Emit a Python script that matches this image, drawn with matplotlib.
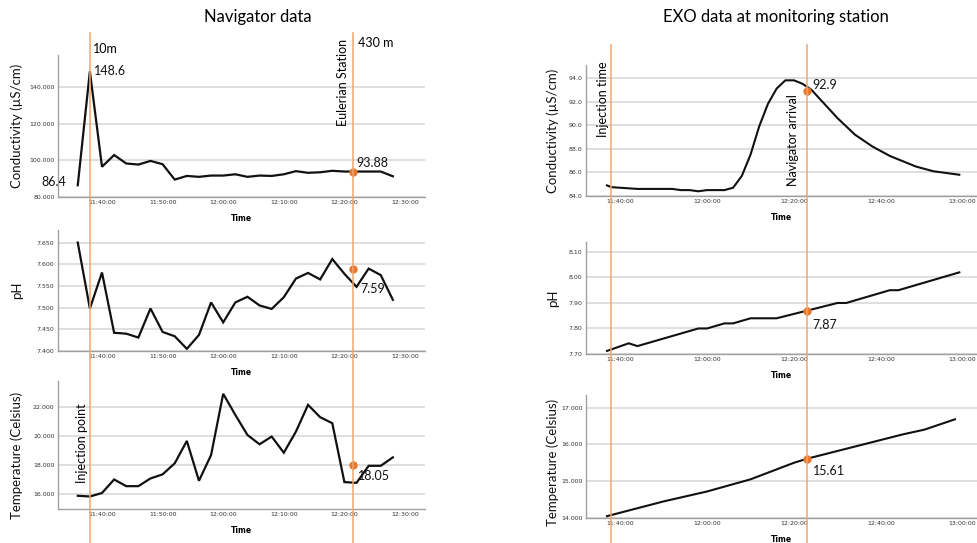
import matplotlib
matplotlib.use('agg')
import matplotlib.pyplot as plt
from matplotlib.lines import Line2D
from matplotlib.transforms import blended_transform_factory, ScaledTranslation

plt.rcParams['font.family'] = ['Lato', 'DejaVu Sans']

# Navigator (moving probe) readings, every two minutes
nav_time = ["11:36", "11:38", "11:40", "11:42", "11:44", "11:46", "11:48", "11:50", "11:52",
            "11:54", "11:56", "11:58", "12:00", "12:02", "12:04", "12:06", "12:08", "12:10",
            "12:12", "12:14", "12:16", "12:18", "12:20", "12:22", "12:24", "12:26", "12:28"]
nav_cond = [86.4, 148.6, 96.5, 102.9, 98.3, 97.7, 99.7, 97.9, 89.5,
            91.5, 91.0, 91.7, 91.7, 92.4, 91.0, 91.7, 91.5, 92.4,
            94.1, 93.2, 93.5, 94.3, 93.9, 93.9, 93.9, 93.9, 91.3]
nav_ph = [7.650, 7.498, 7.581, 7.442, 7.440, 7.431, 7.498, 7.444, 7.434,
          7.405, 7.437, 7.512, 7.466, 7.512, 7.525, 7.505, 7.497, 7.524,
          7.567, 7.580, 7.565, 7.612, 7.578, 7.548, 7.590, 7.575, 7.518]
nav_temp = [15.91, 15.86, 16.10, 17.03, 16.57, 16.57, 17.10, 17.38, 18.14,
            19.68, 16.94, 18.71, 22.92, 21.47, 20.09, 19.45, 19.98, 18.87,
            20.32, 22.16, 21.31, 20.90, 16.85, 16.80, 17.97, 17.97, 18.55]

# EXO sonde at the monitoring station
exo_cond_time = ["11:37", "11:38", "11:40", "11:42", "11:44", "11:46", "11:48", "11:50",
                 "11:52", "11:54", "11:56", "11:58", "12:00", "12:02", "12:04", "12:06",
                 "12:08", "12:10", "12:12", "12:14", "12:16", "12:18", "12:20", "12:22",
                 "12:24", "12:26", "12:28", "12:30", "12:32", "12:34", "12:36", "12:38",
                 "12:40", "12:42", "12:44", "12:46", "12:48", "12:50", "12:52", "12:54",
                 "12:56", "12:58"]
exo_cond = [84.9, 84.75, 84.7, 84.65, 84.6, 84.6, 84.6, 84.6,
            84.6, 84.5, 84.5, 84.4, 84.5, 84.5, 84.5, 84.7,
            85.7, 87.5, 89.9, 91.8, 93.1, 93.8, 93.8, 93.5,
            93.0, 92.2, 91.4, 90.6, 89.9, 89.2, 88.7, 88.2,
            87.8, 87.4, 87.1, 86.8, 86.5, 86.3, 86.1, 86.0,
            85.9, 85.8]
exo_ph_time = ["11:37", "11:42", "11:44", "11:58", "12:00", "12:04", "12:06",
               "12:10", "12:16", "12:30", "12:32", "12:42", "12:44", "12:58"]
exo_ph = [7.712, 7.742, 7.731, 7.80, 7.80, 7.82, 7.82,
          7.84, 7.84, 7.90, 7.90, 7.95, 7.95, 8.02]
exo_temp_time = ["11:37", "11:50", "12:00", "12:10", "12:20", "12:23",
                 "12:30", "12:40", "12:45", "12:50", "12:57"]
exo_temp = [14.05, 14.45, 14.72, 15.05, 15.50, 15.61,
            15.82, 16.12, 16.27, 16.40, 16.68]

# event times and the values read at the station
injection_time = "11:38"
nav_station_time = "12:21:30"
exo_arrival_time = "12:23"
nav_station_vals = [93.88, 7.59, 18.05]
exo_arrival_vals = [92.9, 7.87, 15.61]

nav_ticks = ["11:40:00", "11:50:00", "12:00:00", "12:10:00", "12:20:00", "12:30:00"]
exo_ticks = ["11:40:00", "12:00:00", "12:20:00", "12:40:00", "13:00:00"]


def minutes(s):
    parts = [int(p) for p in s.split(':')]
    sec = parts[2] if len(parts) > 2 else 0
    return (parts[0] - 11) * 60 + parts[1] + sec / 60.0


W, H = 977, 543
fig = plt.figure(figsize=(W / 100, H / 100), dpi=100)
ORANGE = '#f0a56c'
DOT = '#e8772e'


def panel(left, top, right, bottom, xlim, ylim, yticks, yfmt, ticks, ylabel, ylab_x, ylab_y):
    ax = fig.add_axes([left / W, 1 - bottom / H, (right - left) / W, (bottom - top) / H])
    ax.set_xlim(*xlim)
    ax.set_ylim(*ylim)
    ax.set_yticks(yticks)
    ax.set_yticklabels([yfmt % v for v in yticks])
    ax.set_xticks([minutes(t) for t in ticks])
    ax.set_xticklabels(ticks)
    ax.tick_params(length=0, labelsize=4.5, labelcolor='#333333')
    ax.tick_params(axis='x', pad=2.5)
    ax.tick_params(axis='y', pad=2.5)
    for lab in ax.get_xticklabels() + ax.get_yticklabels():
        lab.set_family('DejaVu Sans')
    ax.grid(axis='y', color='#d6d6d6', lw=1.1)
    ax.set_axisbelow(True)
    for s in ['top', 'right']:
        ax.spines[s].set_visible(False)
    for s in ['left', 'bottom']:
        ax.spines[s].set_color('#a0a0a0')
        ax.spines[s].set_linewidth(1.0)
    ax.set_xlabel('Time', fontsize=5.5, fontweight='bold', family='DejaVu Sans', labelpad=6)
    ax.set_ylabel(ylabel, fontsize=9.5, color='#111111')
    # label anchor is the right edge of the rotated text, given in pixels
    ax.yaxis.set_label_coords((ylab_x - left) / (right - left), ylab_y)
    return ax


nav_xlim = (32.74, 93.3)
exo_xlim = (32.18, 122.07)

ax1 = panel(58, 55, 425, 197, nav_xlim, (80, 157.5), [80, 100, 120, 140], '%.3f', nav_ticks,
            'Conductivity (µS/cm)', 23, 0.5)
ax2 = panel(58, 230, 425, 351, nav_xlim, (7.40, 7.679), [7.40, 7.45, 7.50, 7.55, 7.60, 7.65], '%.3f',
            nav_ticks, 'pH', 23, 0.5)
ax3 = panel(58, 381, 425, 509, nav_xlim, (15.0, 23.8), [16, 18, 20, 22], '%.3f', nav_ticks,
            'Temperature (Celsius)', 23, 0.42)
ax4 = panel(586, 65, 977, 196, exo_xlim, (84, 95.1), [84, 86, 88, 90, 92, 94], '%.1f', exo_ticks,
            'Conductivity (µS/cm)', 559, 0.5)
ax5 = panel(586, 242, 977, 354, exo_xlim, (7.70, 8.139), [7.70, 7.80, 7.90, 8.00, 8.10], '%.2f',
            exo_ticks, 'pH', 559, 0.5)
ax6 = panel(586, 395, 977, 518, exo_xlim, (14, 17.34), [14, 15, 16, 17], '%.3f', exo_ticks,
            'Temperature (Celsius)', 559, 0.45)

# keep the last time label of the right column inside the figure
for ax in [ax4, ax5, ax6]:
    last = ax.get_xticklabels()[-1]
    last.set_horizontalalignment('right')
    last.set_transform(last.get_transform() + ScaledTranslation(8 / 100, 0, fig.dpi_scale_trans))

nav_x = [minutes(t) for t in nav_time]
for ax, vals in [(ax1, nav_cond), (ax2, nav_ph), (ax3, nav_temp)]:
    ax.plot(nav_x, vals, color='#111111', lw=1.6, solid_joinstyle='miter', zorder=3)
ax4.plot([minutes(t) for t in exo_cond_time], exo_cond, color='#111111', lw=1.5, zorder=3)
ax5.plot([minutes(t) for t in exo_ph_time], exo_ph, color='#111111', lw=1.5, zorder=3)
ax6.plot([minutes(t) for t in exo_temp_time], exo_temp, color='#111111', lw=1.5, zorder=3)

# orange event lines running through each column of panels
for ax, t, ytop in [(ax1, injection_time, 33), (ax1, nav_station_time, 33),
                    (ax4, injection_time, 45), (ax4, exo_arrival_time, 45)]:
    tr = blended_transform_factory(ax.transData, fig.transFigure)
    fig.add_artist(Line2D([minutes(t), minutes(t)], [0.0, 1 - ytop / H], transform=tr,
                          color=ORANGE, lw=1.1, zorder=5))

# station markers and their values
label_offsets = [(2, 6), (5, -15), (3, -8)]
for ax, v, off in zip([ax1, ax2, ax3], nav_station_vals, label_offsets):
    x = minutes(nav_station_time)
    ax.plot([x], [v], 'o', color=DOT, ms=5, zorder=6, clip_on=False)
    ax.annotate('%g' % v, (x, v), xytext=off, textcoords='offset points', fontsize=9,
                ha='left', va='center', color='#111111')
exo_offsets = [(4, 4), (4, -10), (4, -9)]
for ax, v, off in zip([ax4, ax5, ax6], exo_arrival_vals, exo_offsets):
    x = minutes(exo_arrival_time)
    ax.plot([x], [v], 'o', color=DOT, ms=5, zorder=6, clip_on=False)
    ax.annotate('%g' % v, (x, v), xytext=off, textcoords='offset points', fontsize=9,
                ha='left', va='center', color='#111111')

# first reading and the peak of the navigator conductivity
ax1.annotate('%g' % nav_cond[0], (nav_x[0], nav_cond[0]), xytext=(-8, 2), textcoords='offset points',
             fontsize=9, ha='right', va='center', color='#111111')
ax1.annotate('%g' % nav_cond[1], (nav_x[1], nav_cond[1]), xytext=(3, 0), textcoords='offset points',
             fontsize=9, ha='left', va='center', color='#111111')

# event line captions
ax1.annotate('10m', (minutes(injection_time), 1.042), xycoords=('data', 'axes fraction'),
             xytext=(2, 0), textcoords='offset points', fontsize=9, ha='left', va='center')
ax1.annotate('430 m', (minutes(nav_station_time), 1.085), xycoords=('data', 'axes fraction'),
             xytext=(3, 0), textcoords='offset points', fontsize=9, ha='left', va='center')
ax1.annotate('Eulerian Station', (minutes(nav_station_time), 0.81), xycoords=('data', 'axes fraction'),
             xytext=(-3, 0), textcoords='offset points', fontsize=9, ha='right', va='center',
             rotation=90)
ax3.annotate('Injection point', (minutes(injection_time), 0.516), xycoords=('data', 'axes fraction'),
             xytext=(-1, 0), textcoords='offset points', fontsize=9, ha='right', va='center',
             rotation=90)
ax4.annotate('Injection time', (minutes(injection_time), 0.74), xycoords=('data', 'axes fraction'),
             xytext=(-2, 0), textcoords='offset points', fontsize=9, ha='right', va='center',
             rotation=90)
ax4.annotate('Navigator arrival', (minutes(exo_arrival_time), 0.427), xycoords=('data', 'axes fraction'),
             xytext=(-6, 0), textcoords='offset points', fontsize=9, ha='right', va='center',
             rotation=90)

fig.text(258 / W, 1 - 17 / H, 'Navigator data', fontsize=12, ha='center', va='center')
fig.text(776 / W, 1 - 17 / H, 'EXO data at monitoring station', fontsize=12, ha='center', va='center')

fig.savefig('out.png', dpi=100)
